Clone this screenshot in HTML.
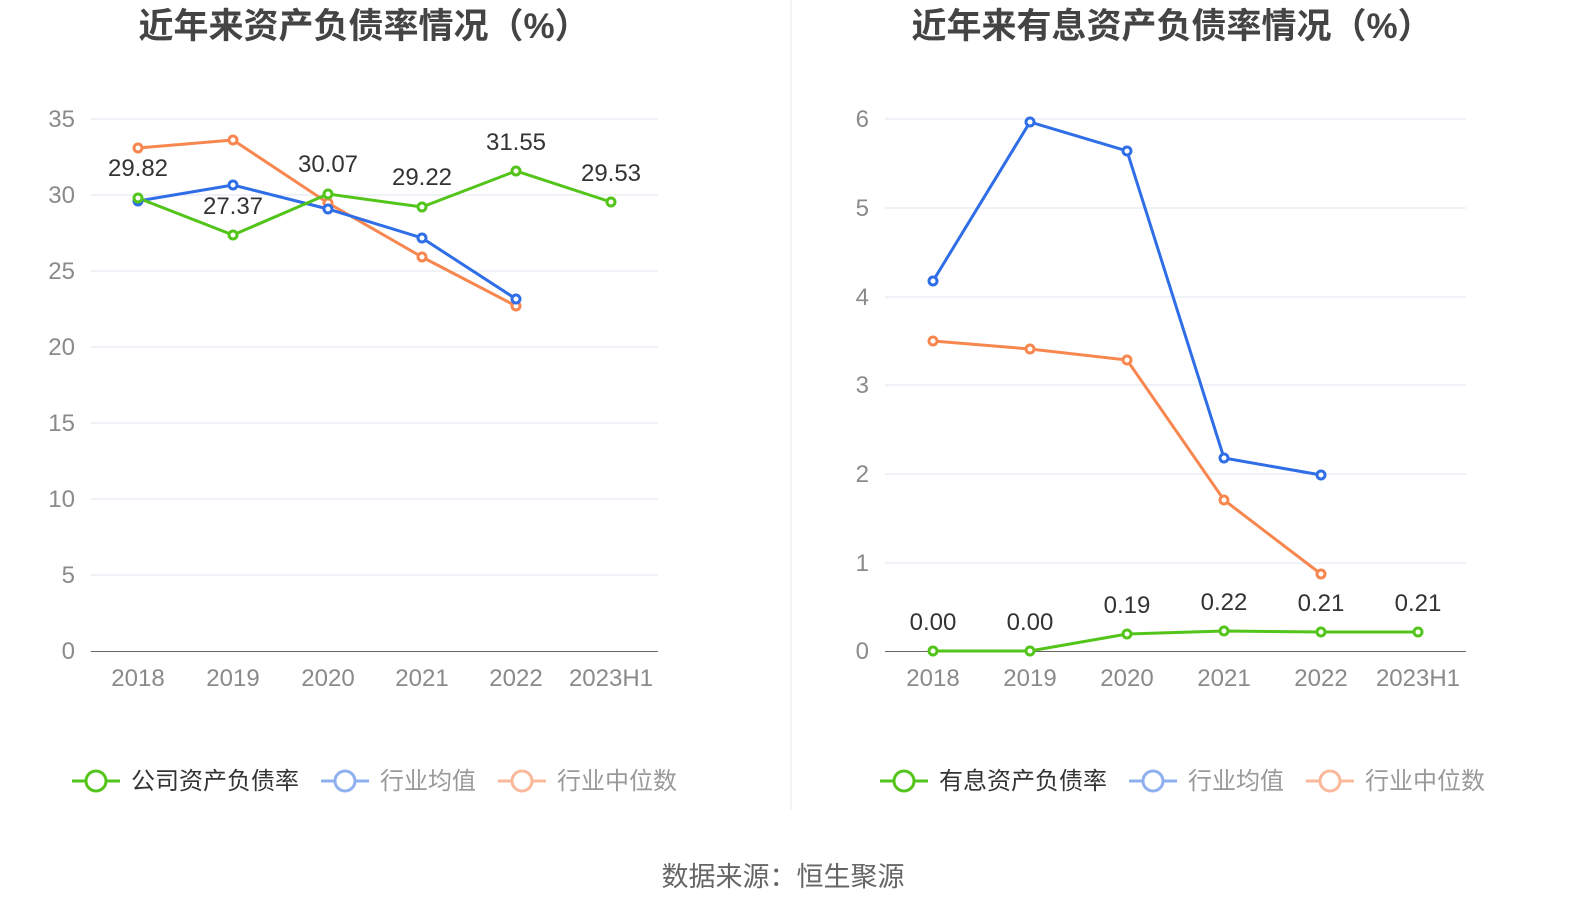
<!DOCTYPE html>
<html><head><meta charset="utf-8"><style>
body{margin:0;background:#fff;}
svg text{font-family:"Liberation Sans","Noto Sans CJK SC",sans-serif;}
</style></head><body>
<svg width="1574" height="918" xmlns="http://www.w3.org/2000/svg">
<rect width="1574" height="918" fill="#fff"/>
<line x1="791" y1="0" x2="791" y2="810" stroke="#e8e8e8" stroke-width="1"/>
<text x="364" y="38" font-size="35" font-weight="bold" fill="#444" text-anchor="middle">近年来资产负债率情况（%）</text>
<text x="1172" y="38" font-size="35" font-weight="bold" fill="#444" text-anchor="middle">近年来有息资产负债率情况（%）</text>
<g stroke="#dfe5ef" stroke-width="1">
<line x1="91" x2="658" y1="119" y2="119"/><line x1="91" x2="658" y1="195" y2="195"/><line x1="91" x2="658" y1="271" y2="271"/><line x1="91" x2="658" y1="347" y2="347"/><line x1="91" x2="658" y1="423" y2="423"/><line x1="91" x2="658" y1="499" y2="499"/><line x1="91" x2="658" y1="575" y2="575"/>
<line x1="885" x2="1466" y1="119" y2="119"/><line x1="885" x2="1466" y1="208" y2="208"/><line x1="885" x2="1466" y1="297" y2="297"/><line x1="885" x2="1466" y1="385" y2="385"/><line x1="885" x2="1466" y1="474" y2="474"/><line x1="885" x2="1466" y1="563" y2="563"/>
</g>
<line x1="91" x2="658" y1="651.5" y2="651.5" stroke="#666"/>
<line x1="885" x2="1466" y1="651.5" y2="651.5" stroke="#666"/>
<g font-size="24" fill="#8a8a8a" text-anchor="end">
<text x="75" y="127">35</text><text x="75" y="203">30</text><text x="75" y="279">25</text><text x="75" y="355">20</text><text x="75" y="431">15</text><text x="75" y="507">10</text><text x="75" y="583">5</text><text x="75" y="659">0</text>
<text x="869" y="127">6</text><text x="869" y="216">5</text><text x="869" y="305">4</text><text x="869" y="393">3</text><text x="869" y="482">2</text><text x="869" y="571">1</text><text x="869" y="659">0</text>
</g>
<g font-size="24" fill="#8a8a8a" text-anchor="middle">
<text x="138" y="686">2018</text><text x="233" y="686">2019</text><text x="328" y="686">2020</text><text x="422" y="686">2021</text><text x="516" y="686">2022</text><text x="611" y="686">2023H1</text>
<text x="933" y="686">2018</text><text x="1030" y="686">2019</text><text x="1127" y="686">2020</text><text x="1224" y="686">2021</text><text x="1321" y="686">2022</text><text x="1418" y="686">2023H1</text>
</g>
<g fill="#fff" stroke-width="3">
<polyline fill="none" stroke="#f7874f" points="138,148 233,140 328,203 422,257 516,306"/>
<polyline fill="none" stroke="#2f6ee6" points="138,201 233,185 328,209 422,238 516,299"/>
<polyline fill="none" stroke="#52c41a" points="138,198 233,235 328,194 422,207 516,171 611,202"/>
<g stroke="#f7874f"><circle cx="138" cy="148" r="4"/><circle cx="233" cy="140" r="4"/><circle cx="328" cy="203" r="4"/><circle cx="422" cy="257" r="4"/><circle cx="516" cy="306" r="4"/></g>
<g stroke="#2f6ee6"><circle cx="138" cy="201" r="4"/><circle cx="233" cy="185" r="4"/><circle cx="328" cy="209" r="4"/><circle cx="422" cy="238" r="4"/><circle cx="516" cy="299" r="4"/></g>
<g stroke="#52c41a"><circle cx="138" cy="198" r="4"/><circle cx="233" cy="235" r="4"/><circle cx="328" cy="194" r="4"/><circle cx="422" cy="207" r="4"/><circle cx="516" cy="171" r="4"/><circle cx="611" cy="202" r="4"/></g>
<polyline fill="none" stroke="#f7874f" points="933,341 1030,349 1127,360 1224,500 1321,574"/>
<polyline fill="none" stroke="#2f6ee6" points="933,281 1030,122 1127,151 1224,458 1321,475"/>
<polyline fill="none" stroke="#52c41a" points="933,651 1030,651 1127,634 1224,631 1321,632 1418,632"/>
<g stroke="#f7874f"><circle cx="933" cy="341" r="4"/><circle cx="1030" cy="349" r="4"/><circle cx="1127" cy="360" r="4"/><circle cx="1224" cy="500" r="4"/><circle cx="1321" cy="574" r="4"/></g>
<g stroke="#2f6ee6"><circle cx="933" cy="281" r="4"/><circle cx="1030" cy="122" r="4"/><circle cx="1127" cy="151" r="4"/><circle cx="1224" cy="458" r="4"/><circle cx="1321" cy="475" r="4"/></g>
<g stroke="#52c41a"><circle cx="933" cy="651" r="4"/><circle cx="1030" cy="651" r="4"/><circle cx="1127" cy="634" r="4"/><circle cx="1224" cy="631" r="4"/><circle cx="1321" cy="632" r="4"/><circle cx="1418" cy="632" r="4"/></g>
</g>
<g font-size="24" fill="#333" text-anchor="middle">
<text x="138" y="176">29.82</text><text x="233" y="214">27.37</text><text x="328" y="172">30.07</text><text x="422" y="185">29.22</text><text x="516" y="150">31.55</text><text x="611" y="181">29.53</text>
<text x="933" y="630">0.00</text><text x="1030" y="630">0.00</text><text x="1127" y="613">0.19</text><text x="1224" y="610">0.22</text><text x="1321" y="611">0.21</text><text x="1418" y="611">0.21</text>
</g>
<g font-size="24" stroke-width="3" fill="#fff">
<line x1="72" x2="120" y1="781" y2="781" stroke="#52c41a"/><circle cx="96" cy="781" r="10" stroke="#52c41a"/>
<text x="131" y="789" fill="#333" stroke="none">公司资产负债率</text>
<line x1="321" x2="369" y1="781" y2="781" stroke="#8fb0ef"/><circle cx="345" cy="781" r="10" stroke="#8fb0ef"/>
<text x="380" y="789" fill="#999" stroke="none">行业均值</text>
<line x1="498" x2="546" y1="781" y2="781" stroke="#f9b99a"/><circle cx="522" cy="781" r="10" stroke="#f9b99a"/>
<text x="557" y="789" fill="#999" stroke="none">行业中位数</text>
<line x1="880" x2="928" y1="781" y2="781" stroke="#52c41a"/><circle cx="904" cy="781" r="10" stroke="#52c41a"/>
<text x="939" y="789" fill="#333" stroke="none">有息资产负债率</text>
<line x1="1129" x2="1177" y1="781" y2="781" stroke="#8fb0ef"/><circle cx="1153" cy="781" r="10" stroke="#8fb0ef"/>
<text x="1188" y="789" fill="#999" stroke="none">行业均值</text>
<line x1="1306" x2="1354" y1="781" y2="781" stroke="#f9b99a"/><circle cx="1330" cy="781" r="10" stroke="#f9b99a"/>
<text x="1365" y="789" fill="#999" stroke="none">行业中位数</text>
</g>
<text x="783" y="886" font-size="27" fill="#666" text-anchor="middle">数据来源：恒生聚源</text>
</svg>
</body></html>
